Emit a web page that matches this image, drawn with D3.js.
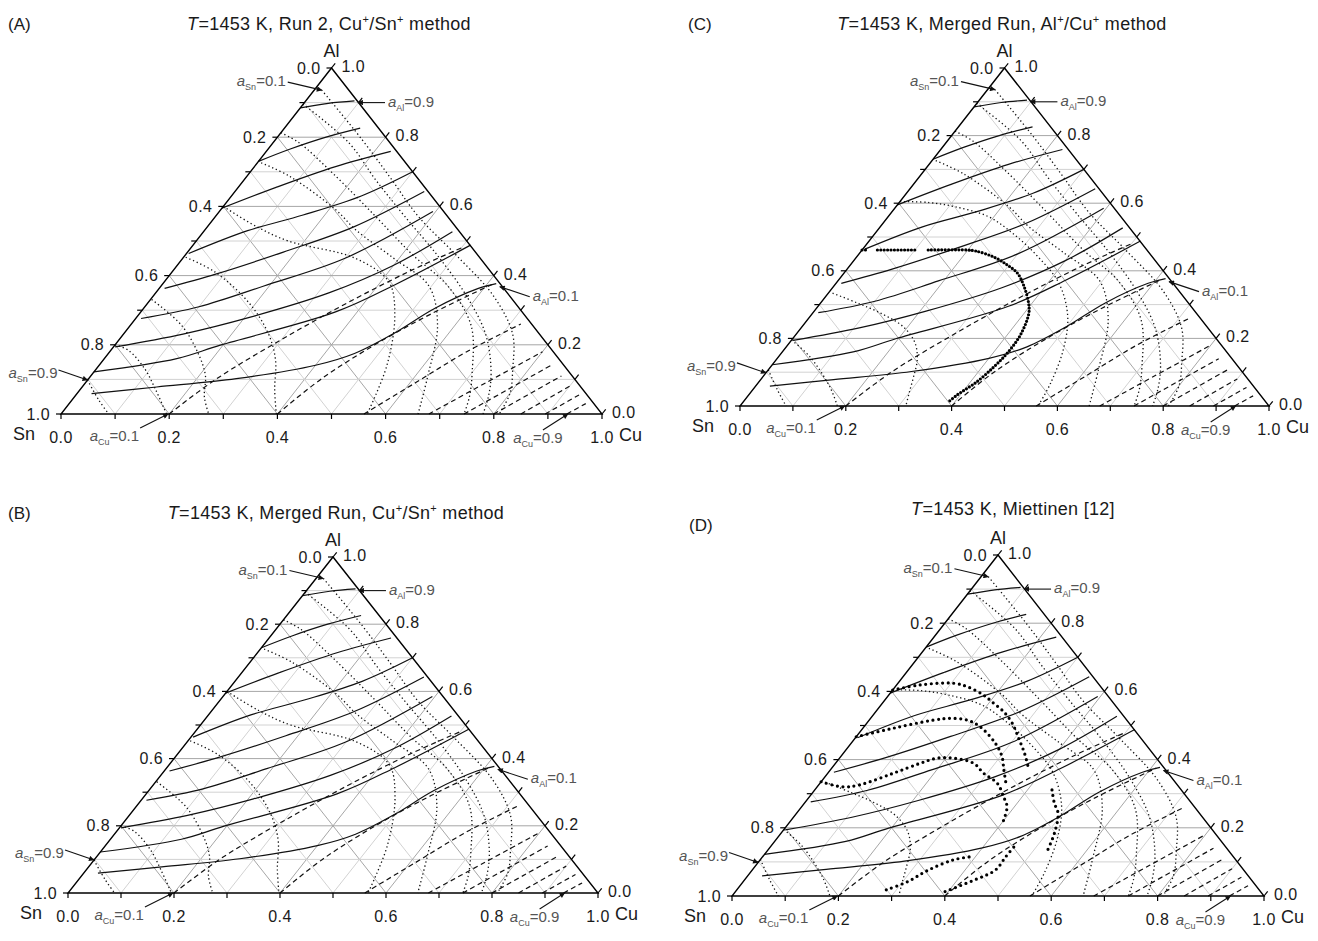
<!DOCTYPE html>
<html>
<head>
<meta charset="utf-8">
<script src="https://cdnjs.cloudflare.com/ajax/libs/d3/7.8.5/d3.min.js"></script>
<style>
  body { margin: 0; background: #fff; }
  text { font-family: "Liberation Sans", Arial, sans-serif; }
</style>
</head>
<body>
<svg id="fig" width="1318" height="941"></svg>
<script>
// every point is a composition [xCu, xAl] (xSn = 1 - xCu - xAl)

// iso-a_Al lines (solid), a_Al = 0.9 ... 0.1
var aAlValues = [0.9, 0.8, 0.7, 0.6, 0.5, 0.4, 0.3, 0.2, 0.1];
var aAlLines = [
  [[0,.885],[.045,.898],[.09,.905]],
  [[0,.73],[.04,.765],[.09,.80],[.14,.826]],
  [[0,.595],[.07,.655],[.15,.715],[.23,.759]],
  [[.004,.464],[.08,.53],[.16,.575],[.24,.63],[.30,.70]],
  [[.01,.363],[.085,.405],[.177,.468],[.27,.54],[.35,.643]],
  [[.01,.276],[.10,.31],[.19,.37],[.30,.45],[.395,.585]],
  [[.003,.194],[.11,.231],[.21,.28],[.32,.35],[.40,.43],[.46,.527]],
  [[0,.122],[.134,.16],[.195,.199],[.36,.295],[.43,.373],[.513,.488]],
  [[.027,.059],[.138,.078],[.273,.102],[.40,.141],[.455,.175],[.50,.235],[.538,.305],[.59,.363],[.616,.377]]
];

// iso-a_Cu lines (dashed), a_Cu = 0.1 ... 0.9
var aCuLines = [
  [[.2,0],[.236,.1],[.30,.215],[.37,.323],[.44,.415],[.50,.48]],
  [[.40,0],[.43,.1],[.48,.2],[.54,.29],[.61,.375]],
  [[.56,0],[.61,.09],[.66,.18],[.72,.26]],
  [[.68,0],[.74,.09],[.80,.18]],
  [[.745,0],[.79,.07],[.835,.14]],
  [[.80,0],[.835,.055],[.87,.11]],
  [[.85,0],[.90,.08]],
  [[.895,0],[.93,.055]],
  [[.935,0],[.955,.03]]
];

// iso-a_Sn lines (dotted), a_Sn = 0.1 ... 0.4, same look in all panels
var aSnUpper = [
  [[.014,.936],[.16,.793],[.27,.68],[.375,.571],[.50,.46],[.63,.34],[.72,.23],[.77,.13],[.80,.06],[.81,0]],
  [[0,.895],[.14,.784],[.243,.677],[.35,.571],[.47,.455],[.58,.34],[.67,.23],[.735,.12],[.765,.05],[.78,0]],
  [[0,.813],[.048,.784],[.153,.697],[.296,.571],[.42,.46],[.53,.37],[.63,.256],[.70,.12],[.73,.05],[.745,0]],
  [[.007,.726],[.079,.687],[.213,.59],[.279,.532],[.39,.45],[.495,.37],[.568,.256],[.623,.11],[.66,0]]
];
// a_Sn = 0.5 ... 0.9, panels A and B
var aSnLowerAB = [
  [[0,.60],[.09,.542],[.17,.50],[.319,.45],[.415,.382],[.474,.286],[.532,.141],[.566,0]],
  [[.004,.453],[.08,.41],[.185,.323],[.265,.235],[.318,.157],[.36,.07],[.398,0]],
  [[.002,.331],[.095,.256],[.17,.17],[.212,.11],[.24,.05],[.273,0]],
  [[0,.20],[.034,.183],[.09,.13],[.14,.07],[.195,0]],
  [[0,.098],[.05,.04],[.088,0]]
];
// a_Sn = 0.5, 0.7, 0.8, 0.9, panels C and D
var aSnLowerCD = [
  [[0,.605],[.056,.602],[.11,.59],[.188,.561],[.26,.511],[.342,.442],[.4215,.363],[.487,.265],[.528,.166],[.5535,.067],[.5635,0]],
  [[.008,.334],[.069,.305],[.128,.275],[.192,.234],[.238,.186],[.267,.136],[.285,.086],[.30,.04],[.3135,0]],
  [[0,.195],[.06,.145],[.142,.056],[.184,0]],
  [[0,.107],[.045,.05],[.087,0]]
];

// heavy dotted boundaries
var gapC = [
  [[0,.4615],[.012,.4615]],
  [[.029,.4615],[.10,.4615]],
  [[.125,.4615],[.199,.4615],[.216,.4586],[.259,.441],[.297,.417],[.328,.393],[.357,.358],[.393,.305],[.409,.274],[.425,.21],[.427,.156],[.422,.116],[.412,.072],[.394,.0325],[.388,.012]]
];
var gapD = [
  [[0,.604],[.044,.619],[.1045,.624],[.135,.614],[.1785,.589],[.2095,.565],[.241,.54],[.274,.506],[.308,.462],[.341,.418],[.373,.37]],
  [[0,.467],[.057,.492],[.121,.516],[.15,.521],[.184,.516],[.218,.4965],[.271,.448],[.303,.409],[.326,.37],[.35,.33]],
  [[0,.335],[.049,.32],[.077,.326],[.123,.36],[.159,.389],[.183,.404],[.215,.404],[.26,.389],[.293,.36],[.334,.33],[.365,.291],[.386,.262],[.40,.22]],
  [[.281,.018],[.309,.042],[.331,.076],[.363,.106],[.39,.115]],
  [[.394,.013],[.432,.047],[.457,.076],[.457,.115],[.458,.145]],
  [[.446,.311],[.47,.272],[.492,.242],[.514,.184],[.528,.125]]
];

var tickValues = d3.range(0, 11).map(function(k) { return k / 10; });

// labelled activity lines: element, value, arrow tip [xCu, xAl]
var annotations = [
  {el: "Sn", val: "0.1", tip: [.014, .936], tail: [-34, -8], anchor: "end",    tx: -2, ty: 4},
  {el: "Al", val: "0.9", tip: [.099, .90],  tail: [27, 0],   anchor: "start",  tx: 3,  ty: 4},
  {el: "Al", val: "0.1", tip: [.627, .368], tail: [30, 10],  anchor: "start",  tx: 3,  ty: 4},
  {el: "Sn", val: "0.9", tip: [0, .098],    tail: [-29, -10], anchor: "end",   tx: -1, ty: 8},
  {el: "Cu", val: "0.1", tip: [.198, 0],    tail: [-28, 14], anchor: "end",    tx: -1, ty: 13},
  {el: "Cu", val: "0.9", tip: [.937, 0],    tail: [-25, 16], anchor: "middle", tx: -5, ty: 13}
];

var panels = [
  {sn: [61, 414], cu: 602, top: 68, letter: "(A)", lx: 8, ly: 30,
   title: "*T*=1453 K, Run 2, Cu^+^/Sn^+^ method", tx: 329, ty: 30, lower: aSnLowerAB, gaps: [], gapDash: "0,3.6"},
  {sn: [740, 406], cu: 1269, top: 68, letter: "(C)", lx: 688, ly: 30,
   title: "*T*=1453 K, Merged Run, Al^+^/Cu^+^ method", tx: 1002, ty: 30, lower: aSnLowerCD, gaps: gapC, gapDash: "0,3.4"},
  {sn: [68, 893], cu: 598, top: 557, letter: "(B)", lx: 8, ly: 519,
   title: "*T*=1453 K, Merged Run, Cu^+^/Sn^+^ method", tx: 336, ty: 519, lower: aSnLowerAB, gaps: [], gapDash: "0,3.6"},
  {sn: [732, 896], cu: 1264, top: 555, letter: "(D)", lx: 689, ly: 531,
   title: "*T*=1453 K, Miettinen [12]", tx: 1013, ty: 515, lower: aSnLowerCD, gaps: gapD, gapDash: "0,5.6"}
];

var svg = d3.select("#fig");
svg.append("rect").attr("width", 1318).attr("height", 941).attr("fill", "#fff");

svg.append("defs").append("marker")
    .attr("id", "arr")
    .attr("viewBox", "0 0 10 10")
    .attr("refX", 9).attr("refY", 5)
    .attr("markerWidth", 7).attr("markerHeight", 5)
    .attr("orient", "auto")
  .append("path")
    .attr("d", "M0,0L10,5L0,10z")
    .attr("fill", "#111");

// text with *italic* and ^superscript^ parts
function richText(sel, str) {
  var lift = 0;
  str.split(/(\*[^*]+\*|\^[^^]+\^)/).forEach(function(s) {
    if (!s) return;
    var t = sel.append("tspan");
    if (s[0] === "*") {
      t.attr("font-style", "italic").text(s.slice(1, -1));
    } else if (s[0] === "^") {
      t.attr("font-size", "11px").attr("dy", -7).text(s.slice(1, -1));
      lift = 7;
      return;
    } else {
      t.text(s);
    }
    if (lift) { t.attr("dy", lift); lift = 0; }
  });
}

panels.forEach(drawPanel);

function drawPanel(p) {
  var base = p.sn[1];
  var x = d3.scaleLinear().domain([0, 1]).range([p.sn[0], p.cu]);
  var y = d3.scaleLinear().domain([0, 1]).range([base, p.top]);
  function X(d) { return x(d[0] + d[1] / 2); }
  function Y(d) { return y(d[1]); }
  var line = d3.line().x(X).y(Y).curve(d3.curveCatmullRom.alpha(0.5));
  var straight = d3.line().x(X).y(Y);

  var g = svg.append("g");

  // grid, 0.1 steps, darker every 0.2
  var grid = [];
  d3.range(1, 10).forEach(function(k) {
    var t = k / 10, major = k % 2 === 0;
    grid.push({pts: [[0, t], [1 - t, t]], major: major});
    grid.push({pts: [[t, 0], [t, 1 - t]], major: major});
    grid.push({pts: [[1 - t, 0], [0, 1 - t]], major: major});
  });
  g.selectAll("path.grid").data(grid).enter().append("path")
      .attr("class", "grid")
      .attr("d", function(d) { return straight(d.pts); })
      .attr("fill", "none")
      .attr("stroke", function(d) { return d.major ? "#a6a6a6" : "#d2d2d2"; })
      .attr("stroke-width", 1);

  // a_Sn dotted
  g.selectAll("path.sn").data(aSnUpper.concat(p.lower)).enter().append("path")
      .attr("class", "sn")
      .attr("d", line)
      .attr("fill", "none")
      .attr("stroke", "#111")
      .attr("stroke-width", 1.3)
      .attr("stroke-dasharray", "1.3,2.7");

  // a_Cu dashed
  g.selectAll("path.cu").data(aCuLines).enter().append("path")
      .attr("class", "cu")
      .attr("d", line)
      .attr("fill", "none")
      .attr("stroke", "#111")
      .attr("stroke-width", 1.2)
      .attr("stroke-dasharray", "5,3.5");

  // a_Al solid
  g.selectAll("path.al").data(aAlLines).enter().append("path")
      .attr("class", "al")
      .attr("d", line)
      .attr("fill", "none")
      .attr("stroke", "#111")
      .attr("stroke-width", 1.2);

  // heavy dotted boundaries
  g.selectAll("path.gap").data(p.gaps).enter().append("path")
      .attr("class", "gap")
      .attr("d", line)
      .attr("fill", "none")
      .attr("stroke", "#000")
      .attr("stroke-width", 3.2)
      .attr("stroke-linecap", "round")
      .attr("stroke-dasharray", p.gapDash);

  // frame
  g.append("path")
      .attr("d", straight([[0, 0], [1, 0], [0, 1], [0, 0]]) + "Z")
      .attr("fill", "none")
      .attr("stroke", "#000")
      .attr("stroke-width", 1.4);

  // ticks
  var ux = X([0, 1]) - X([0, 0]), uy = Y([0, 1]) - Y([0, 0]);
  var ul = Math.sqrt(ux * ux + uy * uy);
  ux /= ul; uy /= ul;
  var ticks = [];
  tickValues.forEach(function(v) {
    var l = [0, 1 - v], r = [1 - v, v], b = [v, 0];
    ticks.push({x1: X(l), y1: Y(l), x2: X(l) - 5, y2: Y(l)});
    ticks.push({x1: X(r), y1: Y(r), x2: X(r) + 6 * ux, y2: Y(r) + 6 * uy});
    ticks.push({x1: X(b), y1: Y(b), x2: X(b), y2: Y(b) + 5});
  });
  g.selectAll("line.tick").data(ticks).enter().append("line")
      .attr("class", "tick")
      .attr("x1", function(d) { return d.x1; }).attr("y1", function(d) { return d.y1; })
      .attr("x2", function(d) { return d.x2; }).attr("y2", function(d) { return d.y2; })
      .attr("stroke", "#000").attr("stroke-width", 1.2);

  var major = tickValues.filter(function(v, i) { return i % 2 === 0; });
  var lab = g.append("g").attr("font-size", "16px").attr("fill", "#1a1a1a").attr("letter-spacing", "0.4px");
  lab.selectAll("text.l").data(major).enter().append("text")
      .attr("x", function(v) { return X([0, 1 - v]) - 11; })
      .attr("y", function(v) { return Y([0, 1 - v]) + 5.5; })
      .attr("text-anchor", "end")
      .text(function(v) { return v.toFixed(1); });
  lab.selectAll("text.r").data(major).enter().append("text")
      .attr("x", function(v) { return X([1 - v, v]) + 10; })
      .attr("y", function(v) { return Y([1 - v, v]) + 4; })
      .attr("text-anchor", "start")
      .text(function(v) { return v.toFixed(1); });
  lab.selectAll("text.b").data(major).enter().append("text")
      .attr("x", function(v) { return X([v, 0]); })
      .attr("y", base + 29)
      .attr("text-anchor", "middle")
      .text(function(v) { return v.toFixed(1); });

  // corner names
  var names = g.append("g").attr("font-size", "18px").attr("fill", "#1a1a1a");
  names.append("text").attr("x", X([0, 1])).attr("y", p.top - 11).attr("text-anchor", "middle").text("Al");
  names.append("text").attr("x", x(0) - 26).attr("y", base + 26).attr("text-anchor", "end").text("Sn");
  names.append("text").attr("x", x(1) + 17).attr("y", base + 27).attr("text-anchor", "start").text("Cu");

  // activity labels with arrows
  annotations.forEach(function(a) {
    var tx = X(a.tip), ty = Y(a.tip);
    var sx = tx + a.tail[0], sy = ty + a.tail[1];
    g.append("line")
        .attr("x1", sx).attr("y1", sy).attr("x2", tx).attr("y2", ty)
        .attr("stroke", "#111").attr("stroke-width", 1.1)
        .attr("marker-end", "url(#arr)");
    var t = g.append("text")
        .attr("x", sx + a.tx).attr("y", sy + a.ty)
        .attr("text-anchor", a.anchor)
        .attr("font-family", "'Liberation Serif', 'Times New Roman', serif")
        .attr("font-size", "15px")
        .attr("fill", "#555");
    t.append("tspan").attr("font-style", "italic").text("a");
    t.append("tspan").attr("font-size", "9px").attr("dy", 4).text(a.el);
    t.append("tspan").attr("dy", -4).text("=" + a.val);
  });

  // panel letter and title
  svg.append("text").attr("x", p.lx).attr("y", p.ly)
      .attr("font-size", "17px").attr("fill", "#1a1a1a").text(p.letter);
  var title = svg.append("text").attr("x", p.tx).attr("y", p.ty)
      .attr("text-anchor", "middle")
      .attr("font-size", "18px").attr("fill", "#1a1a1a").attr("letter-spacing", "0.3px");
  richText(title, p.title);
}
</script>
</body>
</html>
